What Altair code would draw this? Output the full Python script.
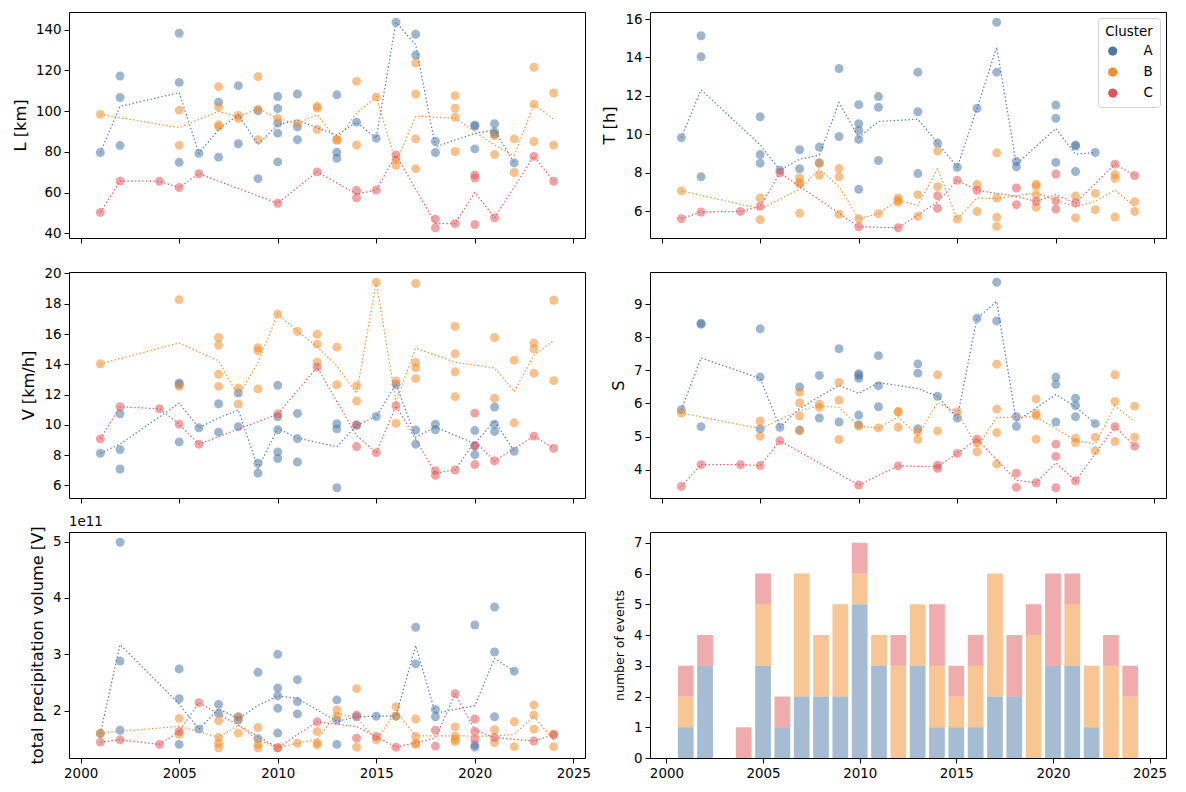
import altair as alt
import pandas as pd

# ---- data ---------------------------------------------------------------
CLUSTERS = ["A", "B", "C"]
COLORS = ["#4e79a7", "#f28e2b", "#e15759"]

YEARS_A = [2001, 2002, 2002, 2002, 2005, 2005, 2005, 2006, 2007, 2007, 2008, 2008,
           2009, 2009, 2010, 2010, 2010, 2010, 2010, 2011, 2011, 2011, 2013, 2013,
           2013, 2014, 2015, 2016, 2017, 2017, 2018, 2018, 2020, 2020, 2020, 2021,
           2021, 2021, 2022]
L_A = [79.7, 117.2, 106.7, 83.1, 138.2, 114.1, 74.9, 79.3, 104.4, 77.4, 112.5, 84.0,
       100.2, 66.9, 107.2, 101.3, 94.1, 89.2, 75.1, 108.4, 92.3, 86.0, 108.0, 79.8,
       76.9, 94.6, 86.7, 143.6, 137.7, 127.5, 85.2, 79.7, 93.2, 92.6, 81.5, 93.8,
       89.8, 88.6, 74.6]
T_A = [9.82, 15.13, 14.03, 7.78, 10.91, 8.94, 8.49, 8.13, 9.19, 8.2, 9.33, 8.5,
       13.42, 9.88, 11.54, 10.55, 10.2, 9.73, 7.13, 11.96, 11.4, 8.63, 13.23, 11.17,
       7.95, 9.54, 8.28, 11.35, 15.83, 13.23, 8.58, 8.3, 11.52, 10.83, 8.53, 9.44,
       9.38, 8.06, 9.05]
V_A = [8.12, 10.73, 8.36, 7.08, 12.77, 12.65, 8.87, 9.8, 11.39, 9.51, 12.1, 9.87,
       7.46, 6.81, 12.61, 10.53, 9.67, 8.21, 7.77, 10.75, 9.09, 7.54, 10.07, 9.73,
       5.84, 9.96, 10.55, 12.68, 9.65, 8.72, 10.04, 9.67, 9.62, 8.61, 8.03, 11.17,
       10.04, 9.56, 8.25]
S_A = [5.81, 8.43, 8.4, 5.3, 8.26, 6.8, 5.23, 5.28, 6.5, 5.2, 6.85, 5.56,
       7.66, 5.44, 6.9, 6.85, 6.76, 5.65, 5.36, 7.45, 6.54, 5.9, 7.2, 6.92,
       5.24, 6.22, 5.56, 8.58, 9.67, 8.5, 5.6, 5.31, 6.8, 6.58, 5.44, 6.16,
       5.94, 5.6, 5.39]
VOL_A = [1.59, 4.99, 2.88, 1.65, 2.74, 2.21, 1.4, 1.67, 2.11, 1.95, 1.89, 1.83,
         2.68, 1.5, 3.0, 2.4, 2.26, 2.04, 1.6, 2.55, 2.16, 1.94, 2.19, 1.83,
         1.4, 1.89, 1.9, 1.9, 3.48, 2.83, 2.02, 1.89, 3.52, 1.39, 1.35, 3.84,
         3.04, 1.89, 2.7]

YEARS_B = [2001, 2005, 2005, 2007, 2007, 2007, 2007, 2008, 2008, 2009, 2009, 2009,
           2010, 2011, 2012, 2012, 2012, 2013, 2013, 2014, 2014, 2015, 2016, 2016,
           2017, 2017, 2017, 2017, 2019, 2019, 2019, 2019, 2021, 2021, 2022, 2022,
           2023, 2023, 2023, 2024, 2024]
L_B = [98.4, 100.5, 83.3, 112.0, 102.0, 93.3, 92.3, 97.9, 96.4, 116.9, 101.0, 86.0,
       96.4, 94.0, 102.3, 101.5, 91.0, 86.1, 85.7, 114.6, 83.4, 106.9, 76.1, 73.4,
       123.6, 108.4, 86.4, 71.8, 107.6, 101.4, 97.0, 80.2, 88.0, 78.7, 86.4, 69.9,
       121.5, 103.4, 85.1, 108.9, 83.4]
T_B = [7.05, 6.68, 5.55, 7.72, 7.5, 7.4, 5.88, 8.5, 7.86, 8.21, 7.78, 5.83,
       5.6, 5.86, 6.68, 6.55, 6.45, 6.85, 5.72, 9.12, 7.27, 5.58, 7.38, 5.98,
       9.03, 6.68, 5.68, 5.2, 7.4, 7.3, 6.85, 6.2, 6.78, 5.65, 6.92, 6.07,
       7.9, 7.69, 5.69, 6.49, 5.98]
V_B = [14.03, 18.27, 12.54, 15.77, 15.27, 13.34, 12.54, 12.43, 11.37, 15.09, 14.91, 12.37,
       17.32, 16.17, 15.99, 15.33, 14.14, 15.13, 12.65, 12.59, 11.57, 19.42, 12.9, 10.09,
       19.34, 14.12, 13.76, 13.05, 16.5, 14.69, 13.5, 11.86, 15.77, 11.75, 14.27, 10.13,
       15.4, 15.02, 13.41, 18.23, 12.92]
S_B = [5.71, 5.47, 5.01, 6.34, 6.02, 5.62, 5.17, 5.98, 5.88, 6.64, 6.1, 4.91,
       5.31, 5.26, 5.76, 5.74, 5.28, 5.15, 4.91, 6.87, 5.17, 5.75, 4.81, 4.54,
       7.19, 5.83, 5.12, 4.17, 6.14, 5.7, 5.63, 4.92, 4.95, 4.82, 4.98, 4.57,
       6.87, 6.06, 4.85, 5.92, 4.98]
VOL_B = [1.6, 1.86, 1.58, 1.82, 1.52, 1.42, 1.34, 1.88, 1.6, 1.7, 1.4, 1.34,
         1.34, 1.42, 1.63, 1.43, 1.39, 2.01, 1.9, 2.39, 1.35, 1.48, 2.07, 1.9,
         1.85, 1.54, 1.42, 1.4, 1.71, 1.55, 1.49, 1.45, 1.66, 1.43, 1.8, 1.36,
         2.1, 1.92, 1.67, 1.58, 1.36]

YEARS_C = [2001, 2002, 2004, 2005, 2006, 2010, 2012, 2014, 2014, 2015, 2016, 2018,
           2018, 2019, 2020, 2020, 2020, 2021, 2023, 2024]
L_C = [50.3, 65.7, 65.6, 62.5, 69.3, 54.8, 70.2, 61.1, 57.5, 61.3, 78.5, 47.0,
       42.8, 44.8, 68.7, 67.2, 44.4, 47.7, 77.8, 65.6]
T_C = [5.6, 5.95, 5.98, 6.24, 7.99, 5.18, 5.13, 6.8, 6.14, 7.6, 7.08, 7.2,
       6.33, 6.5, 7.93, 6.53, 6.1, 6.42, 8.44, 7.85]
V_C = [9.07, 11.19, 11.06, 10.04, 8.72, 10.71, 13.81, 10.0, 8.56, 8.16, 11.26, 6.97,
       6.66, 7.01, 10.77, 8.61, 7.37, 7.61, 9.25, 8.45]
S_C = [3.49, 4.15, 4.15, 4.12, 4.87, 3.53, 4.11, 4.13, 4.04, 4.49, 4.92, 3.89,
       3.46, 3.6, 4.77, 4.4, 3.45, 3.66, 5.3, 4.71]
VOL_C = [1.44, 1.48, 1.4, 1.63, 2.14, 1.34, 1.8, 1.92, 1.51, 1.54, 1.35, 1.65,
         1.37, 2.3, 1.85, 1.63, 1.49, 1.52, 1.46, 1.57]

# tick labels
X_TICKS = [2000, 2005, 2010, 2015, 2020, 2025]
L_TICKS = [40, 60, 80, 100, 120, 140]
T_TICKS = [6, 8, 10, 12, 14, 16]
V_TICKS = [6, 8, 10, 12, 14, 16, 18, 20]
S_TICKS = [4, 5, 6, 7, 8, 9]
VOL_TICKS = [2, 3, 4, 5]   # in units of 1e11
N_TICKS = [0, 1, 2, 3, 4, 5, 6, 7]

# ---- build table -------------------------------------------------------------
frames = []
for c, yrs, l, t, v, s, vol in [
    ("A", YEARS_A, L_A, T_A, V_A, S_A, VOL_A),
    ("B", YEARS_B, L_B, T_B, V_B, S_B, VOL_B),
    ("C", YEARS_C, L_C, T_C, V_C, S_C, VOL_C),
]:
    frames.append(pd.DataFrame({"year": yrs, "cluster": c, "L": l, "T": t,
                                "V": v, "S": s, "vol": vol}))
df = pd.concat(frames, ignore_index=True)

FONT = "DejaVu Sans"
W, H = 516, 226

# shared x range as matplotlib would pick it (bars 0.8 wide + 5% margins)
x_lo, x_hi = df.year.min() - 0.4, df.year.max() + 0.4
x_pad = 0.05 * (x_hi - x_lo)
x_scale = alt.Scale(domain=[x_lo - x_pad, x_hi + x_pad], nice=False, zero=False)
color_scale = alt.Scale(domain=CLUSTERS, range=COLORS)


def y_domain(col):
    lo, hi = df[col].min(), df[col].max()
    pad = 0.05 * (hi - lo)
    return [lo - pad, hi + pad]


def x_enc(bottom):
    return alt.X("year:Q", scale=x_scale, title=None,
                 axis=alt.Axis(values=X_TICKS, labels=bottom, format="d"))


def panel(col, title, ticks, bottom=False, legend=False, title_size=16.2):
    yscale = alt.Scale(domain=y_domain(col), nice=False, zero=False)
    yaxis = alt.Axis(values=ticks, title=title, titleFontSize=title_size)
    if legend:
        leg = alt.Legend(title="Cluster", orient="top-right", offset=6,
                         fillColor="white", strokeColor="#d0d0d0", cornerRadius=3,
                         padding=7, symbolType="circle", symbolSize=85,
                         symbolOpacity=1, symbolStrokeWidth=0, labelOffset=24,
                         rowPadding=6, titleAnchor="middle", titlePadding=6,
                         titleFontSize=13.4, labelFontSize=13.4,
                         titleFontWeight="normal", titleFont=FONT, labelFont=FONT,
                         titleColor="black", labelColor="black")
    else:
        leg = None
    pts = alt.Chart(df).mark_circle(size=80, opacity=0.55).encode(
        x=x_enc(bottom),
        y=alt.Y(f"{col}:Q", scale=yscale, axis=yaxis),
        color=alt.Color("cluster:N", scale=color_scale, legend=leg),
    )
    line = alt.Chart(df).mark_line(strokeDash=[1.4, 2.3], strokeWidth=1.2).encode(
        x=x_enc(bottom),
        y=alt.Y(f"mean({col}):Q", scale=yscale, axis=yaxis),
        color=alt.Color("cluster:N", scale=color_scale, legend=None),
    )
    return alt.layer(pts, line).properties(width=W, height=H)


p_L = panel("L", "L [km]", L_TICKS)
p_T = panel("T", "T [h]", T_TICKS, legend=True)
p_V = panel("V", "V [km/h]", V_TICKS)
p_S = panel("S", "S", S_TICKS)
p_vol = panel("vol", "total precipitation volume [V]", VOL_TICKS, bottom=True)

offset_txt = alt.Chart(pd.DataFrame({"t": ["1e11"]})).mark_text(
    align="left", baseline="bottom", font=FONT, fontSize=13.4, color="black"
).encode(text="t:N", x=alt.value(0), y=alt.value(-3))
p_vol = alt.layer(p_vol, offset_txt).properties(width=W, height=H)

# stacked counts per year
n_max = df.groupby("year").size().max()
bar_px = 0.8 * W / (x_hi - x_lo + 2 * x_pad)
p_N = alt.Chart(df).mark_bar(size=bar_px, opacity=0.5).encode(
    x=x_enc(True),
    y=alt.Y("count():Q", scale=alt.Scale(domain=[0, n_max * 1.05], nice=False),
            axis=alt.Axis(values=N_TICKS, title="number of events", titleFontSize=12.5)),
    color=alt.Color("cluster:N", scale=color_scale, legend=None),
    order=alt.Order("cluster:N", sort="ascending"),
).properties(width=W, height=H)

chart = (
    alt.concat(p_L, p_T, p_V, p_S, p_vol, p_N, columns=2,
               spacing={"row": 34, "column": 65}, bounds="flush")
    .resolve_legend(color="independent")
    .properties(padding={"left": 3, "top": 3, "right": 5, "bottom": 5})
    .configure(background="white", font=FONT)
    .configure_view(stroke="black", strokeWidth=1)
    .configure_axis(
        domain=False, grid=False, ticks=True, tickSize=5, tickWidth=1,
        tickColor="black", labelColor="black", titleColor="black",
        labelFont=FONT, titleFont=FONT, labelFontSize=13.4,
        titleFontWeight="normal", labelPadding=3, titlePadding=7,
    )
)

chart.save("out.html", embed_options={"renderer": "svg", "actions": False})
